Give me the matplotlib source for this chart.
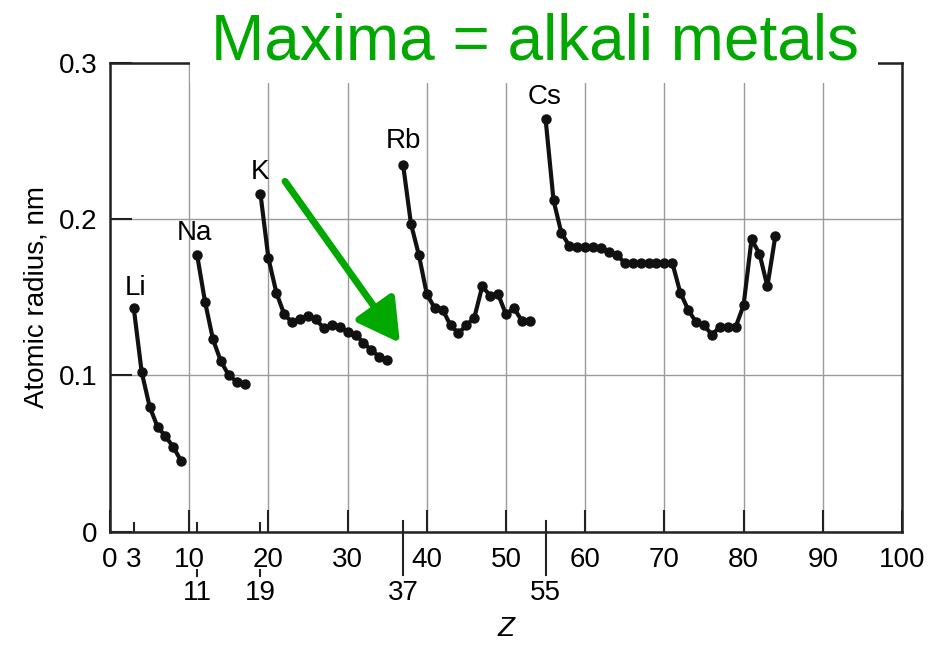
import matplotlib
matplotlib.use("Agg")
import matplotlib.pyplot as plt
from matplotlib.patches import Rectangle
import matplotlib.transforms as mtransforms

plt.rcParams['font.family'] = ['Liberation Sans', 'DejaVu Sans']

# atomic radius (nm) vs Z, one run per period (alkali metal -> halogen)
li_z = list(range(3, 10))
li_r = [0.143, 0.102, 0.080, 0.067, 0.061, 0.054, 0.045]
na_z = list(range(11, 18))
na_r = [0.177, 0.147, 0.123, 0.109, 0.100, 0.096, 0.0945]
k_z = list(range(19, 36))
k_r = [0.216, 0.175, 0.153, 0.139, 0.134, 0.136, 0.138, 0.136, 0.130,
       0.132, 0.131, 0.128, 0.126, 0.121, 0.116, 0.112, 0.110]
rb_z = list(range(37, 54))
rb_r = [0.235, 0.197, 0.177, 0.152, 0.143, 0.142, 0.132, 0.127, 0.132,
        0.137, 0.157, 0.151, 0.152, 0.139, 0.143, 0.135, 0.135]
cs_z = list(range(55, 85))
cs_r = [0.264, 0.212, 0.191, 0.183, 0.182, 0.182, 0.182, 0.1815, 0.179,
        0.177, 0.172, 0.172, 0.172, 0.172, 0.172, 0.172, 0.172, 0.153,
        0.142, 0.134, 0.132, 0.126, 0.131, 0.131, 0.131, 0.145, 0.187,
        0.178, 0.157, 0.189]

series = [(li_z, li_r), (na_z, na_r), (k_z, k_r), (rb_z, rb_r), (cs_z, cs_r)]

alkali_names = ['Li', 'Na', 'K', 'Rb', 'Cs']
alkali_z = [3, 11, 19, 37, 55]
name_pos = [(3.2, 0.156), (10.7, 0.191), (18.9, 0.230), (37.0, 0.250), (54.9, 0.278)]

xticks = list(range(0, 101, 10))
yticks = [0, 0.1, 0.2, 0.3]
ytick_labels = ['0', '0.1', '0.2', '0.3']

green = '#00a800'
fs = 20

fig = plt.figure(figsize=(9.3, 6.46), dpi=100)
ax = fig.add_axes([0.1183, 0.1772, 0.8516, 0.7253])

for z, r in series:
    ax.plot(z, r, color='#111111', lw=3.0, marker='o', ms=6.5, zorder=3)

for name, (zx, ry) in zip(alkali_names, name_pos):
    ax.text(zx, ry, name, fontsize=fs, ha='center', va='center')

ax.set_xlim(0, 100)
ax.set_ylim(0, 0.3)
ax.set_xticks(xticks)
ax.set_xticklabels([str(v) for v in xticks])
ax.set_yticks(yticks)
ax.set_yticklabels(ytick_labels)
ax.set_xticks([3, 11, 19], minor=True)
ax.set_xticklabels(['3', '', ''], minor=True)
ax.tick_params(axis='both', which='major', direction='in', length=16, width=1.5,
               labelsize=fs, pad=9, color='#222222')
ax.tick_params(axis='x', which='minor', direction='in', length=7, width=1.5,
               labelsize=fs, pad=11, color='#222222')
ax.tick_params(axis='x', which='major', pad=11)
ax.grid(True, which='major', color='#9a9a9a', lw=1.0)
ax.set_axisbelow(True)
for sp in ax.spines.values():
    sp.set_linewidth(1.8)
    sp.set_color('#222222')

# second row of alkali tick labels with their drop ticks
trans = mtransforms.blended_transform_factory(ax.transData, ax.transAxes)
for zv in alkali_z[1:]:
    ax.text(zv, -0.131, str(zv), transform=trans, fontsize=fs,
            ha='center', va='center')
    if zv in (37, 55):
        ax.plot([zv, zv], [0.022, -0.093], transform=trans, color='#222222',
                lw=1.5, clip_on=False)
    else:
        ax.plot([zv, zv], [-0.082, -0.094], transform=trans, color='#222222',
                lw=1.5, clip_on=False)

ax.set_ylabel('Atomic radius, nm', fontsize=fs, labelpad=7)
ax.set_xlabel('Z', fontsize=fs, style='italic', labelpad=31)

ax.annotate('', xy=(36.6, 0.1208), xytext=(22.1, 0.2242),
            arrowprops=dict(arrowstyle='-|>,head_length=0.8,head_width=0.45',
                            lw=5.0, color=green, mutation_scale=32,
                            shrinkA=0, shrinkB=0), zorder=4)

# white patch behind the title that cuts the top frame
fig.patches.append(Rectangle((190 / 930, 1 - 83 / 646), (878 - 190) / 930, 83 / 646,
                             transform=fig.transFigure, facecolor='white',
                             edgecolor='none', zorder=1))
fig.text(0.5747, 1 - 42 / 646, 'Maxima = alkali metals', color=green,
         fontsize=46, ha='center', va='center', zorder=3)

fig.savefig('out.png', dpi=100)
